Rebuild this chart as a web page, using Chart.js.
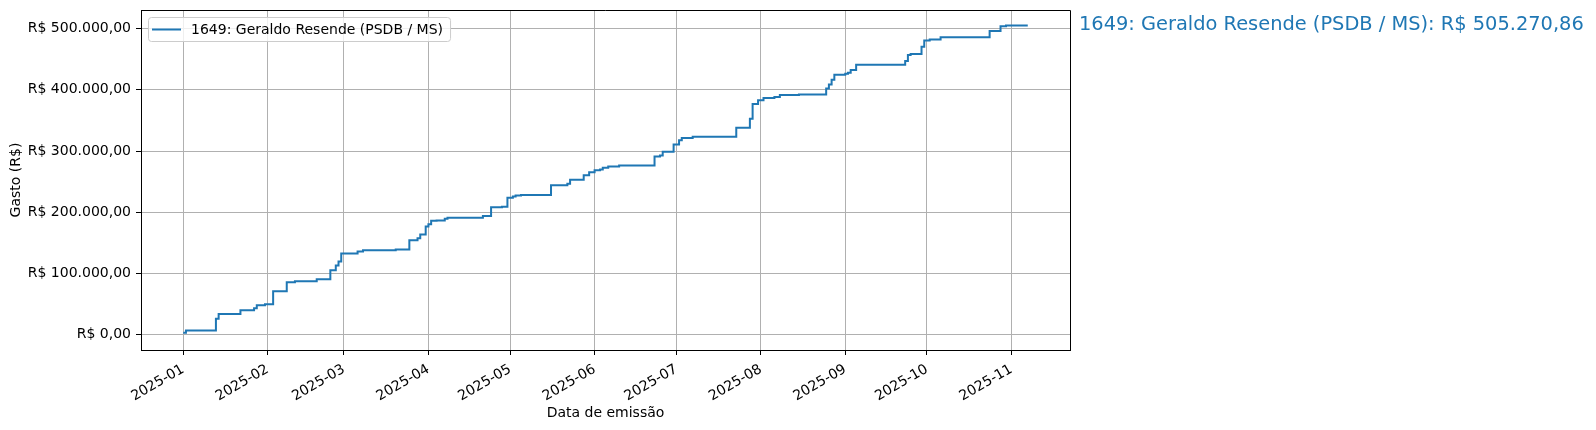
<!DOCTYPE html>
<html lang="pt-BR">
<head>
  <meta charset="UTF-8">
  <title>Gasto acumulado - Geraldo Resende</title>
  <script src="https://cdn.jsdelivr.net/npm/chart.js"></script>
  <style>
    body { margin: 0; background: #fff; }
    #chart { display: block; }
  </style>
</head>
<body>

  <canvas id="chart" width="1596" height="430" style="width:1596px;height:430px"></canvas>

  <script>
    const seriesLabel = '1649: Geraldo Resende (PSDB / MS)';

    // cumulative spending by emission date
    const dates = [
      '2025-01-01', '2025-01-02', '2025-01-13', '2025-01-14', '2025-01-22', '2025-01-27',
      '2025-01-28', '2025-01-31', '2025-02-03', '2025-02-08', '2025-02-11', '2025-02-19',
      '2025-02-24', '2025-02-26', '2025-02-27', '2025-02-28', '2025-03-06', '2025-03-08',
      '2025-03-20', '2025-03-25', '2025-03-28', '2025-03-29', '2025-03-31', '2025-04-01',
      '2025-04-02', '2025-04-04', '2025-04-07', '2025-04-08', '2025-04-21', '2025-04-24',
      '2025-04-28', '2025-04-30', '2025-05-02', '2025-05-03', '2025-05-05', '2025-05-16',
      '2025-05-22', '2025-05-23', '2025-05-28', '2025-05-30', '2025-06-01', '2025-06-03',
      '2025-06-04', '2025-06-06', '2025-06-10', '2025-06-23', '2025-06-25', '2025-06-26',
      '2025-06-30', '2025-07-02', '2025-07-03', '2025-07-07', '2025-07-23', '2025-07-28',
      '2025-07-29', '2025-07-31', '2025-08-02', '2025-08-06', '2025-08-08', '2025-08-15',
      '2025-08-25', '2025-08-26', '2025-08-27', '2025-08-28', '2025-09-01', '2025-09-02',
      '2025-09-03', '2025-09-05', '2025-09-23', '2025-09-24', '2025-09-25', '2025-09-29',
      '2025-09-30', '2025-10-02', '2025-10-06', '2025-10-24', '2025-10-28', '2025-10-30',
      '2025-11-07'
    ];
    const totals = [
      3000, 6500, 26000, 33700, 39700, 43000,
      47800, 49500, 70700, 85300, 87000, 90200,
      104900, 113000, 119600, 132600, 135900, 138000,
      139000, 154300, 157600, 163600, 176600, 180400,
      185900, 186600, 189300, 190900, 193600, 208000,
      209000, 223500, 225700, 227300, 228300, 243900,
      246500, 252900, 260400, 265200, 268400, 270000,
      272700, 274900, 276500, 290900, 292500, 298900,
      310700, 317600, 321400, 323500, 338200, 352700,
      376900, 382800, 386600, 388200, 391400, 392500,
      402200, 408600, 416700, 424700, 426300, 427900,
      432300, 440900, 447300, 457000, 458600, 470400,
      480600, 482300, 486000, 496200, 503800, 505270.86,
      505270.86
    ];

    const monthTicks = ['2025-01', '2025-02', '2025-03', '2025-04', '2025-05', '2025-06',
                        '2025-07', '2025-08', '2025-09', '2025-10', '2025-11'];
    const yTicks = [0, 100000, 200000, 300000, 400000, 500000];

    const BLUE = '#1f77b4';
    const FONT = 'DejaVu Sans';

    function dayOf(d) {
      const [y, m, dd] = d.split('-').map(Number);
      return (Date.UTC(y, m - 1, dd || 1) - Date.UTC(2025, 0, 1)) / 86400000;
    }

    function brl(v) {
      const parts = Math.abs(v).toFixed(2).split('.');
      const intPart = parts[0].replace(/\B(?=(\d{3})+(?!\d))/g, '.');
      return 'R$ ' + intPart + ',' + parts[1];
    }

    const points = dates.map((d, i) => ({ x: dayOf(d), y: totals[i] }));
    const xFirst = points[0].x, xLast = points[points.length - 1].x;
    const xPad = (xLast - xFirst) * 0.05;
    const yMaxVal = Math.max(...totals);
    const yPad = yMaxVal * 0.05;

    // frame, legend box and end label
    const extras = {
      id: 'extras',
      afterDraw(chart) {
        const ctx = chart.ctx;
        const a = chart.chartArea;
        ctx.save();
        ctx.strokeStyle = '#000';
        ctx.lineWidth = 1;
        ctx.beginPath();
        ctx.moveTo(a.left, a.top + 0.5);
        ctx.lineTo(a.right + 0.5, a.top + 0.5);
        ctx.lineTo(a.right + 0.5, a.bottom);
        ctx.stroke();

        // legend
        ctx.font = '14px "' + FONT + '"';
        const tw = ctx.measureText(seriesLabel).width;
        const lx = a.left + 7, ly = a.top + 7;
        const lw = tw + 50, lh = 24;
        ctx.fillStyle = 'rgba(255,255,255,0.8)';
        ctx.strokeStyle = '#cccccc';
        ctx.beginPath();
        ctx.roundRect(lx + 0.5, ly + 0.5, lw, lh, 3);
        ctx.fill();
        ctx.stroke();
        ctx.strokeStyle = BLUE;
        ctx.lineWidth = 2;
        ctx.beginPath();
        ctx.moveTo(lx + 4, ly + lh / 2 + 0.5);
        ctx.lineTo(lx + 33, ly + lh / 2 + 0.5);
        ctx.stroke();
        ctx.fillStyle = '#000';
        ctx.textBaseline = 'middle';
        ctx.fillText(seriesLabel, lx + 43, ly + lh / 2 + 1);

        // value label to the right of the axes
        const lastVal = totals[totals.length - 1];
        const yPix = chart.scales.y.getPixelForValue(lastVal);
        ctx.font = '19.4px "' + FONT + '"';
        ctx.fillStyle = BLUE;
        ctx.textBaseline = 'middle';
        ctx.fillText(seriesLabel + ': ' + brl(lastVal), a.right + 9, yPix);
        ctx.restore();
      }
    };

    new Chart(document.getElementById('chart'), {
      type: 'line',
      data: {
        datasets: [{
          label: seriesLabel,
          data: points,
          borderColor: BLUE,
          borderWidth: 2,
          pointRadius: 0,
          stepped: 'before',
          fill: false
        }]
      },
      options: {
        responsive: false,
        animation: false,
        layout: { padding: { left: 0, top: 10, right: 526, bottom: 0 } },
        plugins: { legend: { display: false }, tooltip: { enabled: false } },
        scales: {
          x: {
            type: 'linear',
            min: xFirst - xPad,
            max: xLast + xPad,
            afterBuildTicks: s => { s.ticks = monthTicks.map(m => ({ value: dayOf(m) })); },
            afterFit: s => { s.height = 80; s.paddingLeft = 0; s.paddingRight = 0; },
            grid: { color: '#b0b0b0', lineWidth: 1, tickColor: '#000', tickLength: 5 },
            border: { display: true, color: '#000', width: 1 },
            ticks: {
              autoSkip: false,
              minRotation: 30,
              maxRotation: 30,
              padding: 6,
              color: '#000',
              font: { family: FONT, size: 14 },
              callback: (v, i) => monthTicks[i]
            },
            title: {
              display: true,
              text: 'Data de emissão',
              color: '#000',
              font: { family: FONT, size: 14 },
              padding: { top: 4, bottom: 8 }
            }
          },
          y: {
            type: 'linear',
            min: -yPad,
            max: yMaxVal + yPad,
            afterBuildTicks: s => { s.ticks = yTicks.map(v => ({ value: v })); },
            afterFit: s => { s.width = 141; s.paddingTop = 0; s.paddingBottom = 0; },
            grid: { color: '#b0b0b0', lineWidth: 1, tickColor: '#000', tickLength: 5 },
            border: { display: true, color: '#000', width: 1 },
            ticks: {
              padding: 5,
              color: '#000',
              font: { family: FONT, size: 14 },
              callback: v => brl(v)
            },
            title: {
              display: true,
              text: 'Gasto (R$)',
              color: '#000',
              font: { family: FONT, size: 14 },
              padding: { top: 8, bottom: 4 }
            }
          }
        }
      },
      plugins: [extras]
    });
  </script>

</body>
</html>
